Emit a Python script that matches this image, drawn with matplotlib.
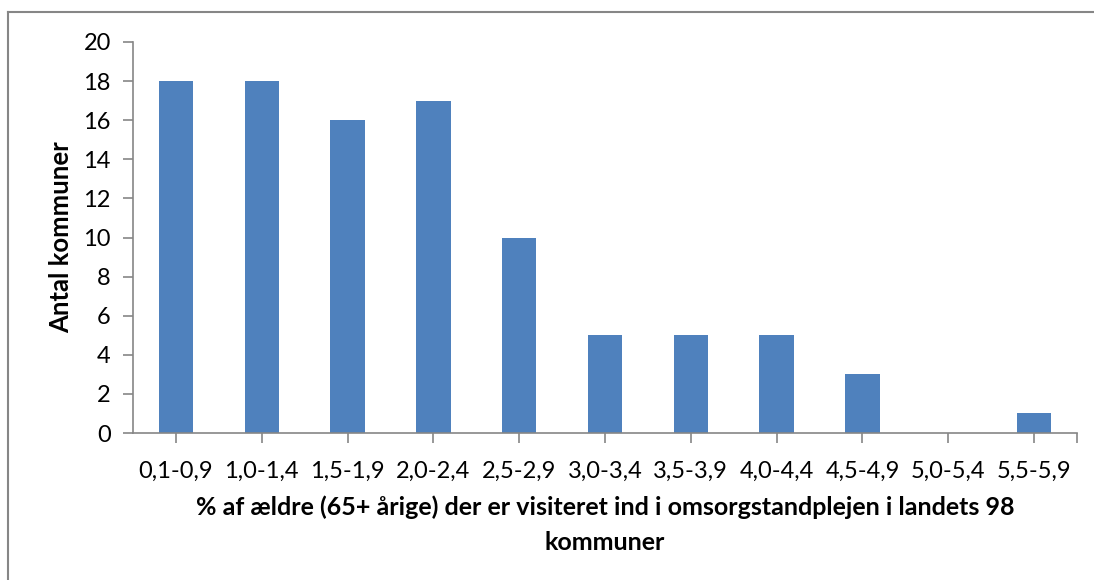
import matplotlib
matplotlib.use("Agg")
import matplotlib.pyplot as plt
from matplotlib.lines import Line2D
import numpy as np

categories = ["0,1-0,9", "1,0-1,4", "1,5-1,9", "2,0-2,4", "2,5-2,9", "3,0-3,4",
              "3,5-3,9", "4,0-4,4", "4,5-4,9", "5,0-5,4", "5,5-5,9"]
values = [18, 18, 16, 17, 10, 5, 5, 5, 3, 0, 1]
yticks = [0, 2, 4, 6, 8, 10, 12, 14, 16, 18, 20]

plt.rcParams['font.family'] = ['Lato', 'DejaVu Sans']

W, H = 1094, 580
fig = plt.figure(figsize=(W/100, H/100), dpi=100)
ax = fig.add_axes([133/W, 1-433/H, (1077-133)/W, (433-42)/H])

x = np.arange(len(categories))
ax.bar(x, values, width=0.4, color="#4F81BD", zorder=2)
ax.set_xlim(-0.5, len(categories)-0.5)
ax.set_ylim(0, 20)
ax.set_yticks(yticks)
ax.set_yticklabels([str(v) for v in yticks], fontsize=17)
ax.set_xticks(list(x) + [len(categories)-0.5])
ax.set_xticklabels(categories + [""], fontsize=17)
for s in ["top", "right"]:
    ax.spines[s].set_visible(False)
for s in ["left", "bottom"]:
    ax.spines[s].set_color("#868686")
    ax.spines[s].set_linewidth(1.2)
ax.tick_params(axis="both", colors="#868686", length=7, width=1.2, labelcolor="black")
ax.tick_params(axis="x", pad=13)
ax.tick_params(axis="y", pad=9)

ax.set_ylabel("Antal kommuner", fontsize=18.5, fontweight="bold", labelpad=7)
ax.set_xlabel("% af ældre (65+ årige) der er visiteret ind i omsorgstandplejen i landets 98\nkommuner",
              fontsize=18, fontweight="bold", labelpad=10, linespacing=1.6)

fig.add_artist(Line2D([8/W, 8/W], [0, 1-12/H], transform=fig.transFigure,
                      color="#868686", linewidth=1.5))
fig.add_artist(Line2D([8/W, 1], [1-12/H, 1-12/H], transform=fig.transFigure,
                      color="#868686", linewidth=1.5))

fig.savefig("out.png", dpi=100)
